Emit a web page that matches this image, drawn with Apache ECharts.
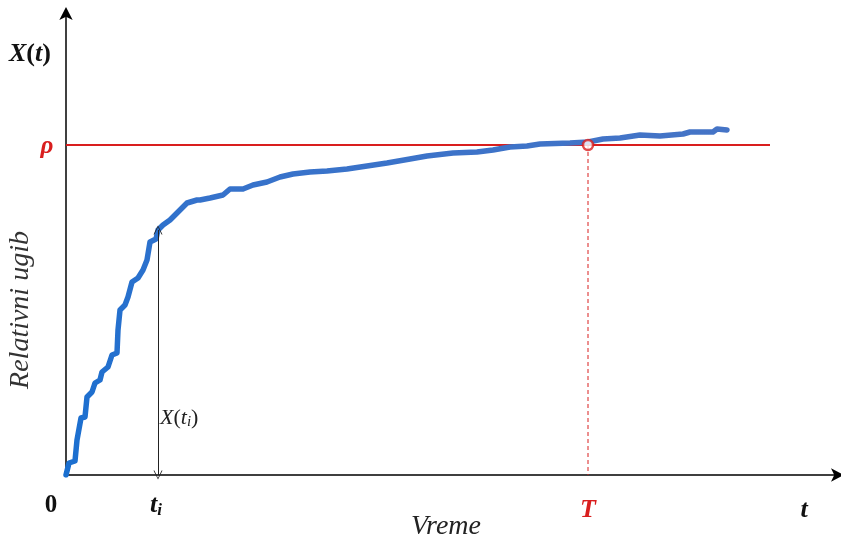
<!DOCTYPE html>
<html><head><meta charset="utf-8">
<script src="https://cdn.jsdelivr.net/npm/echarts@6/dist/echarts.min.js"></script>
<style>html,body{margin:0;padding:0;background:#fff}#c{width:841px;height:539px}</style>
</head><body><div id="c"></div>
<script>
// Relative deflection curve X(t) (arbitrary units)
const timeValues = [0,3,9,11,15,19,21,26,29,34,36,42,46,51,52,54,59,62,66,72,77,81,84,90,92,97,104,112,121,131,134,144,157,164,177,187,201,214,227,244,261,281,301,321,344,361,387,411,427,444,461,474,504,522,537,554,574,594,617,624,647,651,661];
const deflectionValues = [0,12,14,35,57,58,78,83,92,95,103,108,120,122,145,165,170,178,193,197,205,215,233,236,245,250,255,263,272,275,275,277,280,286,286,290,293,298,301,303,304,306,309,312,316,319,322,323,325,328,329,331,332,333,336,337,340,339,341,343,343,346,345];
const rho = 330;        // threshold level
const rhoEnd = 704;     // end of threshold line
const tI = 92;          // time t_i
const tT = 522;         // crossing time T
const xMax = 772, yMax = 462;

const serif = "'Liberation Serif','Times New Roman',serif";
const RED = '#d91e1e';

const chart = echarts.init(document.getElementById('c'));
const curve = timeValues.map((t,i)=>[t, deflectionValues[i]]);
const xi = deflectionValues[timeValues.indexOf(tI)];
const chev = 'path://M0,10 L5,0 L10,10 L9,10 L5,1.6 L1,10 Z';

chart.setOption({
  animation:false,
  grid:{left:66, right:3, top:13, bottom:64},
  xAxis:{type:'value', min:0, max:xMax, axisLabel:{show:false}, axisTick:{show:false}, splitLine:{show:false},
    axisLine:{onZero:false, lineStyle:{color:'#000', width:1.5}, symbol:['none','arrow'], symbolSize:[10,13], symbolOffset:[0,6]}},
  yAxis:{type:'value', min:0, max:yMax, axisLabel:{show:false}, axisTick:{show:false}, splitLine:{show:false},
    axisLine:{onZero:false, lineStyle:{color:'#000', width:1.5}, symbol:['none','arrow'], symbolSize:[10,13], symbolOffset:[0,6]}},
  series:[
    {type:'line', data:[[0,rho],[rhoEnd,rho]], showSymbol:false, silent:true,
     lineStyle:{color:RED, width:2}, z:2},
    {type:'line', data:[[tT,rho],[tT,0]], showSymbol:false, silent:true,
     lineStyle:{color:RED, width:1, type:[4,3]}, z:2},
    {type:'line', data:curve, showSymbol:false, silent:true,
     lineStyle:{width:5.5, cap:'round', join:'round',
       color:{type:'linear', x:0, y:0, x2:1, y2:0, colorStops:[{offset:0,color:'#1a6fd0'},{offset:0.2,color:'#3572cb'},{offset:1,color:'#4574c6'}]}}, z:3},
    {type:'scatter', data:[[tT,rho]], symbol:'circle', symbolSize:10, silent:true,
     itemStyle:{color:'#fff', borderColor:RED, borderWidth:2.5}, z:5},
    {type:'line', data:[], silent:true, z:4,
     markLine:{silent:true, symbol:[chev,chev], symbolSize:[9,9], label:{show:false},
       lineStyle:{color:'#222', width:1, type:'solid'},
       data:[[{coord:[tI,0]},{coord:[tI,xi]}]]}}
  ],
  graphic:[
    {type:'text', x:9, y:54, style:{text:'{a|X}{b|(}{a|t}{b|)}', verticalAlign:'middle',
      rich:{a:{font:`italic bold 26px ${serif}`, fill:'#111'}, b:{font:`bold 26px ${serif}`, fill:'#111'}}}},
    {type:'text', x:47, y:147, style:{text:'ρ', font:`italic bold 25px ${serif}`, fill:RED, align:'center', verticalAlign:'middle'}},
    {type:'text', x:21, y:310, rotation:Math.PI/2, style:{text:'Relativni ugib', font:`italic 28px ${serif}`, fill:'#333', align:'center', verticalAlign:'middle'}},
    {type:'text', x:160, y:418, style:{text:'{a|X}{b|(}{a|t}{s|i}{b|)}', verticalAlign:'middle',
      rich:{a:{font:`italic 22px ${serif}`, fill:'#222'}, b:{font:`22px ${serif}`, fill:'#222'}, s:{font:`italic 15px ${serif}`, fill:'#222', padding:[9,0,0,0]}}}},
    {type:'text', x:51, y:506, style:{text:'0', font:`bold 25px ${serif}`, fill:'#111', align:'center', verticalAlign:'middle'}},
    {type:'text', x:156, y:505, style:{text:'{a|t}{s|i}', verticalAlign:'middle', align:'center',
      rich:{a:{font:`italic bold 26px ${serif}`, fill:'#111'}, s:{font:`italic bold 17px ${serif}`, fill:'#111', padding:[11,0,0,0]}}}},
    {type:'text', x:588, y:510, style:{text:'T', font:`italic bold 26px ${serif}`, fill:RED, align:'center', verticalAlign:'middle'}},
    {type:'text', x:804, y:510, style:{text:'t', font:`italic bold 26px ${serif}`, fill:'#111', align:'center', verticalAlign:'middle'}},
    {type:'text', x:446, y:527, style:{text:'Vreme', font:`italic 28px ${serif}`, fill:'#222', align:'center', verticalAlign:'middle'}}
  ]
});
</script></body></html>
